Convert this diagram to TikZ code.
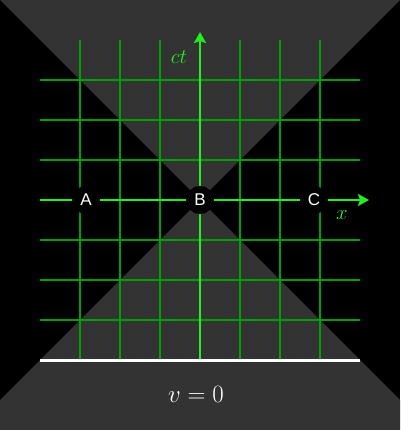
\documentclass[tikz,border=0pt]{standalone}
\usepackage{fontspec}
\newfontfamily\labfont{Liberation Sans}
\usetikzlibrary{arrows.meta}
\definecolor{conegray}{HTML}{333333}
\definecolor{gridgreen}{HTML}{00A000}
\definecolor{axisgreen}{HTML}{22EE22}
\tikzset{
  gridline/.style={draw=gridgreen, line width=1.5pt},
  axisline/.style={draw=axisgreen, line width=2.8pt, -{Stealth[length=11pt,width=12pt,inset=2pt]}},
  event/.style={circle, fill=black, minimum size=28pt, inner sep=0pt, text=white, font=\labfont\fontsize{17}{17}\selectfont},
}
\begin{document}
\begin{tikzpicture}[x=1pt,y=-1pt]
\fill[black] (0,0) rectangle (400,430);
\useasboundingbox (0,0) rectangle (400,430);
\fill[conegray] (0,0) -- (400,0) -- (200,200) -- cycle;
\fill[conegray] (200,200) -- (400,400) -- (400,430) -- (0,430) -- (0,400) -- cycle;
% grid
\foreach \v in {80,120,160,240,280,320} {
  \draw[gridline] (\v,40) -- (\v,360);
  \draw[gridline] (40,\v) -- (360,\v);
}
% axes
\coordinate (xs) at (40,200);
\coordinate (xe) at (369,200);
\coordinate (ts) at (200,360);
\coordinate (te) at (200,32);
\draw[axisline] (xs) -- (xe);
\draw[axisline] (ts) -- (te);
\node[text=axisgreen, font=\fontsize{22}{22}\selectfont] (ctl) at (179,57) {$ct$};
\node[text=axisgreen, font=\fontsize{22}{22}\selectfont] (xl) at (342,215) {$x$};
% events
\node[event] (A) at (86,200) {A};
\node[event] (B) at (200,200) {B};
\node[event] (C) at (314,200) {C};
% base line
\coordinate (bl) at (40,360);
\coordinate (br) at (360,360);
\draw[white, line width=3pt] (bl) -- (br);
\node[text=white, font=\fontsize{25}{25}\selectfont] (vel) at (196,394) {$v=0$};
\end{tikzpicture}
\end{document}
